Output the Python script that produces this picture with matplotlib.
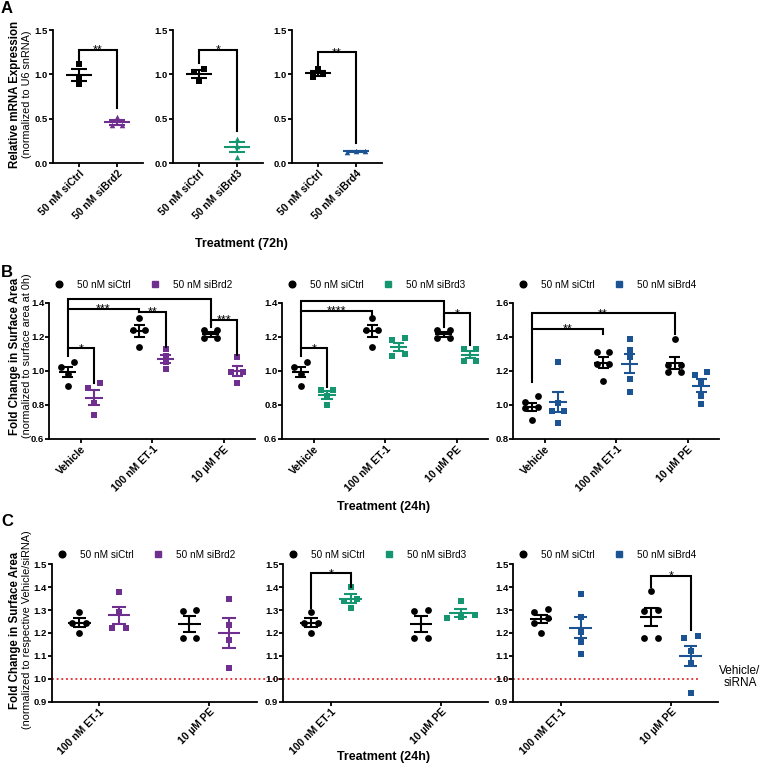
import numpy as np
import matplotlib
matplotlib.use("Agg")
import matplotlib.pyplot as plt
from matplotlib.lines import Line2D

plt.rcParams['font.family'] = ['Liberation Sans', 'DejaVu Sans']

W, H = 760, 772

# colours
ctrl_col = 'black'
brd_cols = ['#6f2f8e', '#159670', '#1c5493']
ctrl_name = '50 nM siCtrl'
brd_names = ['50 nM siBrd2', '50 nM siBrd3', '50 nM siBrd4']

# ---- A: knockdown efficiency (72h), relative mRNA
a_ctrl = [[1.12, 0.975, 0.89], [1.057, 1.03, 0.926], [1.06, 1.00, 0.975]]
a_brd = [[0.52, 0.43, 0.43], [0.27, 0.195, 0.075], [0.14, 0.135, 0.13]]
a_sig = ['**', '*', '**']
a_brk = [(1.28, 1.16, 0.62), (1.28, 1.13, 0.36), (1.25, 1.095, 0.225)]  # top, left leg end, right leg end

# ---- B: fold change vs 0h
b_treat = ['Vehicle', '100 nM ET-1', '10 µM PE']
b_ctrl = [
    [[1.054, 1.025, 0.98, 0.911], [1.31, 1.24, 1.24, 1.14], [1.24, 1.24, 1.19, 1.19]],
    [[1.054, 1.025, 0.98, 0.911], [1.31, 1.24, 1.24, 1.14], [1.24, 1.24, 1.19, 1.19]],
    [[1.05, 1.02, 0.99, 0.98, 0.91], [1.31, 1.31, 1.24, 1.24, 1.14], [1.385, 1.234, 1.234, 1.195, 1.195]],
]
b_brd = [
    [[0.927, 0.897, 0.81, 0.74], [1.13, 1.09, 1.05, 1.01], [1.08, 0.995, 0.995, 0.93]],
    [[0.89, 0.89, 0.85, 0.80], [1.19, 1.18, 1.10, 1.09], [1.13, 1.13, 1.06, 1.06]],
    [[1.25, 1.01, 0.965, 0.965, 0.895], [1.385, 1.32, 1.28, 1.15, 1.075], [1.195, 1.176, 1.137, 1.054, 1.005]],
]
b_ylims = [(0.6, 1.4), (0.6, 1.4), (0.8, 1.6)]
# brackets: (group1, group2, top, leg1 end, leg2 end, label); group = (treatment index, 0 ctrl / 1 siBrd)
b_brk = [
    [((0, 0), (0, 1), 1.132, 1.087, 0.93, '*'),
     ((0, 0), (1, 0), 1.365, 1.132, 1.346, '***'),
     ((0, 0), (2, 0), 1.42, 1.365, 1.269, '***'),
     ((1, 0), (1, 1), 1.346, 1.346, 1.142, '**'),
     ((2, 0), (2, 1), 1.299, 1.259, 1.093, '***')],
    [((0, 0), (0, 1), 1.132, 1.087, 0.907, '*'),
     ((0, 0), (1, 0), 1.351, 1.132, 1.328, '****'),
     ((0, 0), (2, 0), 1.412, 1.351, 1.259, '****'),
     ((2, 0), (2, 1), 1.338, 1.289, 1.152, '*')],
    [((0, 0), (1, 0), 1.448, 1.137, 1.414, '**'),
     ((0, 0), (2, 0), 1.538, 1.448, 1.414, '**')],
]

# ---- C: fold change vs respective vehicle
c_treat = ['100 nM ET-1', '10 µM PE']
c_ctrl = [
    [[1.29, 1.245, 1.245, 1.20], [1.30, 1.295, 1.18, 1.18]],
    [[1.29, 1.245, 1.245, 1.20], [1.30, 1.295, 1.18, 1.18]],
    [[1.305, 1.29, 1.265, 1.245, 1.20], [1.385, 1.30, 1.297, 1.18, 1.18]],
]
c_brd = [
    [[1.38, 1.29, 1.22, 1.22], [1.35, 1.235, 1.17, 1.045]],
    [[1.40, 1.35, 1.34, 1.31], [1.34, 1.28, 1.27, 1.265]],
    [[1.37, 1.27, 1.205, 1.16, 1.11], [1.187, 1.18, 1.12, 1.07, 0.94]],
]
c_brk = [
    [],
    [((0, 0), (0, 1), 1.461, 1.308, 1.402, '*')],
    [((1, 0), (1, 1), 1.449, 1.402, 1.213, '*')],
]

fig = plt.figure(figsize=(W / 100, H / 100), dpi=100)


def axes_px(l, t, r, b):
    return fig.add_axes([l / W, 1 - b / H, (r - l) / W, (b - t) / H])


def style(ax):
    ax.spines[['top', 'right']].set_visible(False)
    for s in ['left', 'bottom']:
        ax.spines[s].set_linewidth(1.3)
    ax.tick_params(width=1.3, length=2.8, labelsize=6.8, pad=0.8)


def swarm(vals, thr):
    # spread points that sit at nearly the same height
    v = np.sort(np.asarray(vals, dtype=float))[::-1]
    offs = np.zeros(len(v))
    i = 0
    while i < len(v):
        j = i + 1
        while j < len(v) and v[i] - v[j] < thr:
            j += 1
        k = j - i
        offs[i:j] = (np.arange(k) - (k - 1) / 2)[::-1]
        i = j
    return v, offs


def group(ax, xc, vals, color, marker, thr, sp, mw, cw, ms):
    v, o = swarm(vals, thr)
    ax.scatter(xc + o * sp, v, s=ms, marker=marker, color=color, linewidths=0, zorder=3, clip_on=False)
    m = np.mean(vals)
    se = np.std(vals, ddof=1) / np.sqrt(len(vals))
    ax.hlines(m, xc - mw, xc + mw, color=color, lw=1.5, zorder=4)
    ax.vlines(xc, m - se, m + se, color=color, lw=1.5, zorder=4)
    ax.hlines([m - se, m + se], xc - cw, xc + cw, color=color, lw=1.5, zorder=4)


def bracket(ax, x1, x2, top, y1, y2, txt):
    ax.plot([x1, x1, x2, x2], [y1, top, top, y2], color='k', lw=1.5, zorder=5,
            solid_joinstyle='miter', clip_on=False)
    ax.annotate(txt, xy=((x1 + x2) / 2, top), xytext=(0, -2.8), textcoords='offset points',
                ha='center', va='baseline', fontsize=9)


def legend(ax, col, name, y):
    hs = [Line2D([], [], ls='none', marker='o', color='k', markersize=4.8),
          Line2D([], [], ls='none', marker='s', color=col, markersize=4.5)]
    ax.legend(hs, [ctrl_name, name], ncol=2, loc='center left', bbox_to_anchor=(0.025, y),
              frameon=False, fontsize=7.2, handlelength=1.0, handletextpad=1.3,
              columnspacing=1.9, borderpad=0, borderaxespad=0)


def bold_ticks(ax):
    for lab in ax.get_xticklabels() + ax.get_yticklabels():
        lab.set_fontweight('bold')


# ---------------- panel A
a_left = [53, 173, 292]
for i in range(3):
    ax = axes_px(a_left[i], 30, a_left[i] + 90, 163.3)
    style(ax)
    group(ax, 0, a_ctrl[i], ctrl_col, 's', 0.05, 0.237, 0.33, 0.2, 13)
    group(ax, 1, a_brd[i], brd_cols[i], '^', 0.05, 0.237, 0.33, 0.2, 16)
    top, l1, l2 = a_brk[i]
    bracket(ax, 0, 1, top, l1, l2, a_sig[i])
    ax.set_xlim(-0.684, 1.684)
    ax.set_ylim(0, 1.5)
    ax.set_yticks([0, 0.5, 1.0, 1.5])
    ax.set_yticklabels(['0.0', '0.5', '1.0', '1.5'])
    ax.set_xticks([0, 1])
    ax.set_xticklabels([ctrl_name, brd_names[i]], rotation=45, ha='right',
                       rotation_mode='anchor', fontsize=7.5)
    bold_ticks(ax)

# ---------------- panel B
b_left = [49.3, 282.3, 513.3]
for i in range(3):
    ax = axes_px(b_left[i], 302.7, b_left[i] + 206, 439)
    style(ax)
    for t in range(3):
        group(ax, t - 0.185, b_ctrl[i][t], ctrl_col, 'o', 0.035, 0.178, 0.123, 0.077, 24)
        group(ax, t + 0.185, b_brd[i][t], brd_cols[i], 's', 0.035, 0.178, 0.123, 0.077, 20)
    for g1, g2, top, l1, l2, txt in b_brk[i]:
        x1 = g1[0] + (0.185 if g1[1] else -0.185)
        x2 = g2[0] + (0.185 if g2[1] else -0.185)
        bracket(ax, x1, x2, top, l1, l2, txt)
    ax.set_xlim(-0.44, 2.44)
    lo, hi = b_ylims[i]
    ax.set_ylim(lo, hi)
    ax.set_yticks(np.arange(lo, hi + 0.01, 0.2))
    ax.yaxis.set_major_formatter(matplotlib.ticker.FormatStrFormatter('%.1f'))
    ax.set_xticks(range(3))
    ax.set_xticklabels(b_treat, rotation=45, ha='right', rotation_mode='anchor', fontsize=7.5)
    bold_ticks(ax)
    legend(ax, brd_cols[i], brd_names[i], 1.13)

# ---------------- panel C
c_left = [51.7, 283.3, 513.3]
c_line_end = [1.127, 1.11, 0.90]
for i in range(3):
    ax = axes_px(c_left[i], 564.3, c_left[i] + 205, 701.7)
    style(ax)
    for t in range(2):
        group(ax, t - 0.18, c_ctrl[i][t], ctrl_col, 'o', 0.03, 0.125, 0.103, 0.061, 24)
        group(ax, t + 0.18, c_brd[i][t], brd_cols[i], 's', 0.03, 0.125, 0.103, 0.061, 20)
    for g1, g2, top, l1, l2, txt in c_brk[i]:
        x1 = g1[0] + (0.18 if g1[1] else -0.18)
        x2 = g2[0] + (0.18 if g2[1] else -0.18)
        bracket(ax, x1, x2, top, l1, l2, txt)
    ax.plot([0, c_line_end[i]], [1.0, 1.0], color='#e3262a', lw=1.3, ls=(0, (1, 1.6)),
            transform=ax.get_yaxis_transform(), clip_on=False, zorder=2)
    ax.set_xlim(-0.43, 1.43)
    ax.set_ylim(0.9, 1.5)
    ax.set_yticks(np.arange(0.9, 1.51, 0.1))
    ax.yaxis.set_major_formatter(matplotlib.ticker.FormatStrFormatter('%.1f'))
    ax.set_xticks(range(2))
    ax.set_xticklabels(c_treat, rotation=45, ha='right', rotation_mode='anchor', fontsize=7.5)
    bold_ticks(ax)
    legend(ax, brd_cols[i], brd_names[i], 1.07)

# ---------------- labels
def ftext(x, y, s, **kw):
    fig.text(x / W, 1 - y / H, s, **kw)

ftext(1, 1, 'A', fontsize=12, fontweight='bold', ha='left', va='top')
ftext(1, 265, 'B', fontsize=12, fontweight='bold', ha='left', va='top')
ftext(1, 514, 'C', fontsize=12, fontweight='bold', ha='left', va='top')

ftext(15, 94, 'Relative mRNA Expression', rotation=90, fontsize=8.3, fontweight='bold', ha='center', va='center')
ftext(27, 94, '(normalized to U6 snRNA)', rotation=90, fontsize=7.8, ha='center', va='center')
ftext(15, 356, 'Fold Change in Surface Area', rotation=90, fontsize=8.3, fontweight='bold', ha='center', va='center')
ftext(27, 356, '(normalized to surface area at 0h)', rotation=90, fontsize=7.8, ha='center', va='center')
ftext(15, 630, 'Fold Change in Surface Area', rotation=90, fontsize=8.3, fontweight='bold', ha='center', va='center')
ftext(27, 630, '(normalized to respective Vehicle/siRNA)', rotation=90, fontsize=7.8, ha='center', va='center')

ftext(241, 244, 'Treatment (72h)', fontsize=9, fontweight='bold', ha='center', va='center')
ftext(384, 507, 'Treatment (24h)', fontsize=9, fontweight='bold', ha='center', va='center')
ftext(384, 757, 'Treatment (24h)', fontsize=9, fontweight='bold', ha='center', va='center')

ftext(740, 677, 'Vehicle/\nsiRNA', fontsize=8.5, ha='center', va='center', linespacing=1.1)

fig.savefig('out.png', dpi=100)
